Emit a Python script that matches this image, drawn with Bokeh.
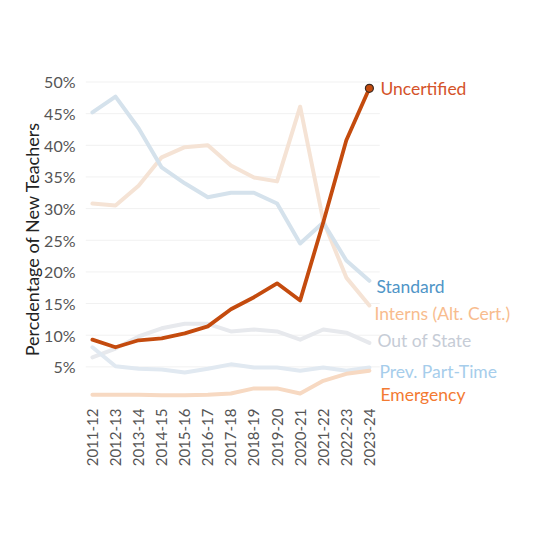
from bokeh.plotting import figure
from bokeh.models import FixedTicker, Range1d, ColumnDataSource, Label
from bokeh.core.properties import value
from bokeh.embed import file_html
from bokeh.resources import INLINE
import math

years = ["2011-12", "2012-13", "2013-14", "2014-15", "2015-16", "2016-17", "2017-18",
         "2018-19", "2019-20", "2020-21", "2021-22", "2022-23", "2023-24"]

standard = [45.2, 47.7, 42.7, 36.5, 34.0, 31.8, 32.5, 32.5, 30.8, 24.5, 27.8, 21.8, 18.6]
interns = [30.8, 30.5, 33.6, 38.1, 39.7, 40.0, 36.8, 34.9, 34.3, 46.1, 28.1, 19.1, 14.7]
out_of_state = [6.5, 7.9, 9.8, 11.1, 11.8, 11.8, 10.6, 10.9, 10.6, 9.3, 10.9, 10.4, 8.8]
prev_part_time = [8.1, 5.1, 4.7, 4.6, 4.1, 4.7, 5.4, 4.9, 4.9, 4.4, 4.9, 4.4, 4.9]
emergency = [0.6, 0.6, 0.6, 0.5, 0.5, 0.6, 0.8, 1.6, 1.6, 0.8, 2.8, 3.9, 4.4]
uncertified = [9.3, 8.1, 9.2, 9.5, 10.3, 11.4, 14.1, 16.0, 18.2, 15.5, 27.8, 40.8, 49.0]

y_ticks = [5, 10, 15, 20, 25, 30, 35, 40, 45, 50]
y_tick_labels = ["5%", "10%", "15%", "20%", "25%", "30%", "35%", "40%", "45%", "50%"]

series_names = ["Standard", "Interns (Alt. Cert.)", "Out of State", "Prev. Part-Time", "Emergency", "Uncertified"]
series_values = [standard, interns, out_of_state, prev_part_time, emergency, uncertified]
line_colors = ["#D5E2EC", "#F5E3D5", "#E7E9ED", "#E1E9F1", "#F7D9C2", "#C44B0E"]
label_colors = ["#4F95C7", "#F8BC8E", "#C6CCD6", "#A6CDEB", "#F37A32", "#D4532A"]
label_y = [17.7, 13.4, 9.2, 4.3, 0.6, 49.0]
label_dx = [7, 5, 8, 10, 11, 11]

FONT = "Lato"
xs = list(range(len(years)))

p = figure(width=532, height=532, output_backend="svg", toolbar_location=None,
           x_range=Range1d(-0.3, 18.72), y_range=Range1d(-1.1, 51.5),
           min_border_left=85, min_border_right=8, min_border_top=72, min_border_bottom=127)
p.outline_line_color = None
p.background_fill_color = "white"
p.border_fill_color = "white"
p.xgrid.grid_line_color = None
p.ygrid.grid_line_color = None

# grid lines limited to the data area
grid_src = ColumnDataSource(dict(x0=[-0.3] * len(y_ticks), x1=[12.45] * len(y_ticks), y=y_ticks))
p.segment(x0="x0", y0="y", x1="x1", y1="y", source=grid_src, line_color="#F1F1F1", line_width=1)

# faint series first, then the highlighted one
order = [1, 0, 2, 3, 4, 5]
for i in order:
    p.line(xs, series_values[i], line_color=line_colors[i], line_width=4 if i != 5 else 3.8,
           line_join="round", line_cap="round")

p.scatter([xs[-1]], [uncertified[-1]], size=8, fill_color="#C44B0E", line_color="#3a2a22", line_width=1.2)

for i, name in enumerate(series_names):
    p.add_layout(Label(x=xs[-1], y=label_y[i], text=name, x_offset=label_dx[i],
                       text_font=FONT, text_font_size="17.5px", text_color=label_colors[i],
                       text_baseline="middle", text_align="left"))

p.xaxis.ticker = FixedTicker(ticks=xs)
p.xaxis.major_label_overrides = {i: y for i, y in enumerate(years)}
p.xaxis.major_label_orientation = math.pi / 2
p.yaxis.ticker = FixedTicker(ticks=y_ticks)
p.yaxis.major_label_overrides = {t: l for t, l in zip(y_ticks, y_tick_labels)}

for ax in (p.xaxis, p.yaxis):
    ax.axis_line_color = None
    ax.major_tick_line_color = None
    ax.minor_tick_line_color = None
    ax.major_label_text_font = FONT
    ax.major_label_text_color = "#555555"

p.yaxis.major_label_text_font_size = "16px"
p.xaxis.major_label_text_font_size = "15px"
p.xaxis.major_label_standoff = -3
p.yaxis.major_label_standoff = 4
p.yaxis.axis_label = "Percdentage of New Teachers"
p.yaxis.axis_label_text_font = FONT
p.yaxis.axis_label_text_font_size = "18px"
p.yaxis.axis_label_text_font_style = "normal"
p.yaxis.axis_label_text_color = "#222222"
p.yaxis.axis_label_standoff = -2

open("out.html", "w").write(file_html(p, INLINE))
